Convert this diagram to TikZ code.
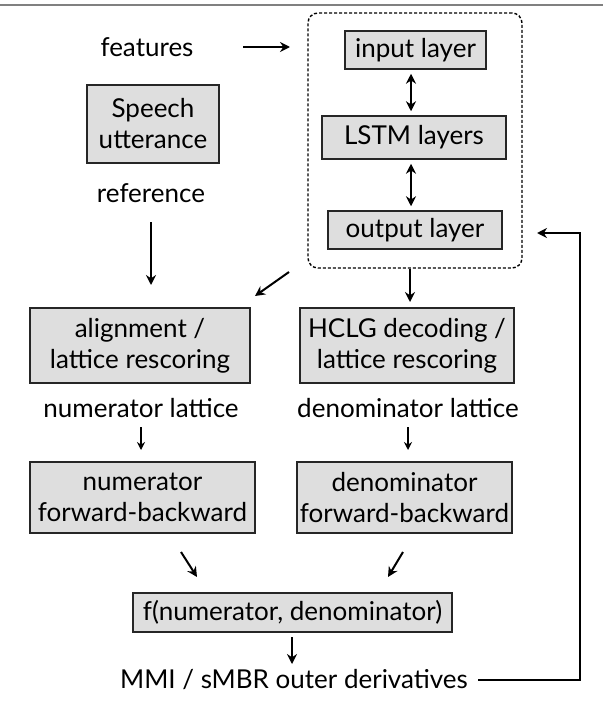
\documentclass[tikz,border=0pt]{standalone}
\usepackage{fontspec}
\setmainfont{Lato}
\usetikzlibrary{arrows.meta}
\begin{document}
\begin{tikzpicture}[x=1pt,y=-1pt,
  box/.style={draw=black!85, fill=black!13, line width=1.5pt, inner sep=0pt, align=center, font=\fontsize{26}{31}\selectfont},
  lbl/.style={inner sep=0pt, font=\fontsize{26}{31}\selectfont},
  arr/.style={-{Stealth[length=10pt,width=10pt]}, line width=2pt},
  sarr/.style={-{Stealth[length=8pt,width=8pt]}, line width=1.7pt},
  darr/.style={{Stealth[length=10pt,width=10pt]}-{Stealth[length=10pt,width=10pt]}, line width=2pt}]
\useasboundingbox (0,0) rectangle (603,704);
\draw[black!50, line width=1.5pt] (0,5) -- (603,5);
% network
\node[draw, line width=1.4pt, dash pattern=on 3pt off 2pt, rounded corners=10pt, minimum width=214pt, minimum height=255pt] (net) at (415,140.5) {};
\node[box, minimum width=141pt, minimum height=38pt] (inp) at (415.5,50) {input layer};
\node[box, minimum width=184pt, minimum height=43pt] (lstm) at (414,137.5) {LSTM layers};
\node[box, minimum width=174pt, minimum height=38pt] (out) at (415,230) {output layer};
\draw[darr, shorten <=4pt, shorten >=4pt] (inp.south -| 411,0) -- (lstm.north -| 411,0);
\draw[darr, shorten <=4pt, shorten >=4pt] (lstm.south -| 411,0) -- (out.north -| 411,0);
% left inputs
\node[lbl] (feat) at (147,47) {features};
\coordinate (feata) at (243,47);
\coordinate (featb) at (290,47);
\draw[arr] (feata) -- (featb);
\node[box, minimum width=132pt, minimum height=78pt] (sp) at (153,124) {Speech\\utterance};
\node[lbl] (ref) at (151,193) {reference};
% second row
\node[box, minimum width=220pt, minimum height=75pt] (ali) at (140,345.5) {alignment /\\lattice rescoring};
\node[box, minimum width=214pt, minimum height=75pt] (hclg) at (407,345.5) {HCLG decoding /\\lattice rescoring};
\coordinate (refa) at (151,222);
\coordinate (refb) at (151,285);
\draw[arr] (refa) -- (refb);
\coordinate (neta) at (289,272);
\coordinate (netb) at (255,296);
\draw[arr] (neta) -- (netb);
\coordinate (netc) at (410,269);
\coordinate (netd) at (410,302);
\draw[arr] (netc) -- (netd);
\node[lbl] (numl) at (141,408) {numerator lattice};
\node[lbl] (denl) at (408,408) {denominator lattice};
\node[box, minimum width=225pt, minimum height=71pt] (numfb) at (142.5,497.5) {numerator\\forward-backward};
\node[box, minimum width=215pt, minimum height=71pt] (denfb) at (404.5,497.5) {denominator\\forward-backward};
\coordinate (nla) at (141,427);
\coordinate (nlb) at (141,450);
\coordinate (dla) at (408,427);
\coordinate (dlb) at (408,450);
\draw[sarr] (nla) -- (nlb);
\draw[sarr] (dla) -- (dlb);
\node[box, minimum width=319pt, minimum height=39pt] (f) at (292.5,612.5) {f(numerator, denominator)};
\coordinate (nfa) at (181,552);
\coordinate (nfb) at (197,577);
\coordinate (dfa) at (403,552);
\coordinate (dfb) at (388,577);
\draw[arr] (nfa) -- (nfb);
\draw[arr] (dfa) -- (dfb);
\node[lbl] (mmi) at (294,680) {MMI / sMBR outer derivatives};
\coordinate (fa) at (292,637);
\coordinate (fb) at (292,664);
\draw[arr] (fa) -- (fb);
\coordinate (c0) at (478,680);
\coordinate (c1) at (580,680);
\coordinate (c2) at (580,233);
\coordinate (c3) at (537,233);
\draw[arr] (c0) -- (c1) -- (c2) -- (c3);
\end{tikzpicture}
\end{document}
